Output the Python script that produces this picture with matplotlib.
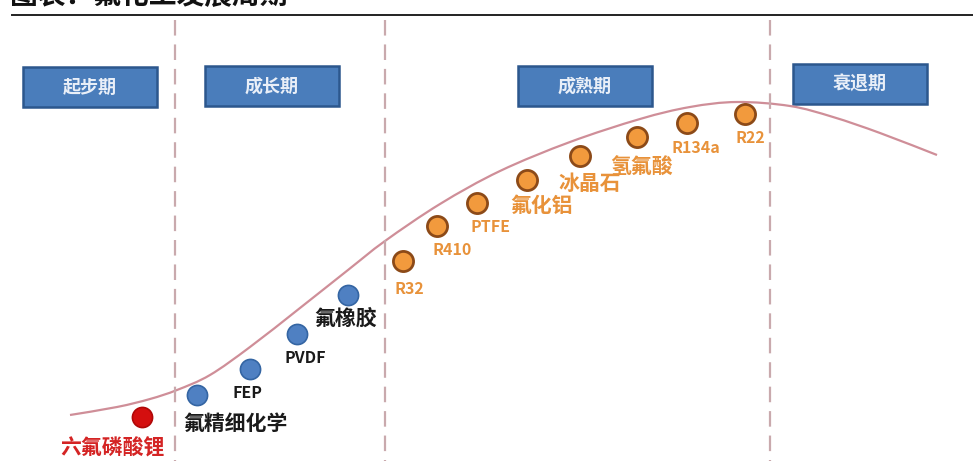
import matplotlib
matplotlib.use("Agg")
import matplotlib.pyplot as plt
from matplotlib.patches import FancyBboxPatch, PathPatch
from matplotlib.path import Path

plt.rcParams['font.family'] = ['Noto Sans CJK SC', 'DejaVu Sans']

# ---- data ----
title = "图表：氟化工发展周期"
stages = ["起步期", "成长期", "成熟期", "衰退期"]
stage_box_x = [23, 205, 518, 793]
stage_box_y = [67, 66, 66, 64]
stage_bounds = [175, 385, 770]

# points on the life-cycle curve
curve_x = [70, 117, 150, 177, 210, 250, 300, 348, 385, 440, 500, 570, 640, 690, 737, 790, 833, 880, 937]
curve_y = [415, 407, 399, 390, 375, 347, 308, 270, 241, 204, 171, 142, 119, 107, 102, 106, 117, 133, 155]

products = ["六氟磷酸锂", "氟精细化学", "FEP", "PVDF", "氟橡胶",
            "R32", "R410", "PTFE", "氟化铝", "冰晶石", "氢氟酸", "R134a", "R22"]
prod_x = [142, 197, 250, 297, 348, 403, 437, 477, 527, 580, 637, 687, 745]
prod_y = [417, 395, 369, 334, 295, 261, 226, 203, 180, 156, 137, 123, 114]
prod_group = ["new", "growth", "growth", "growth", "growth",
              "mature", "mature", "mature", "mature", "mature", "mature", "mature", "mature"]
label_x = [112, 236, 247, 305, 346, 409, 452, 491, 542, 590, 641, 696, 750]
label_y = [448, 423, 393, 358, 318, 289, 250, 227, 205, 183, 167, 148, 138]

W, H = 973, 461
fig = plt.figure(figsize=(W / 100, H / 100), dpi=100)
ax = fig.add_axes([0, 0, 1, 1])
ax.set_xlim(0, W)
ax.set_ylim(H, 0)
ax.axis('off')
fig.patch.set_facecolor('white')

# title (cropped at top, as in the reference) and rule
ax.text(10, 10, title, fontsize=20, fontweight='bold', color='#111111',
        ha='left', va='bottom', clip_on=False)
ax.plot([12, W], [15.5, 15.5], color='#222222', lw=1.4)

# dashed stage boundaries
for bx in stage_bounds:
    ax.plot([bx, bx], [20, H], color='#c9a9ad', lw=1.6, dashes=(7, 4))

# stage boxes
for name, bx, by in zip(stages, stage_box_x, stage_box_y):
    box = FancyBboxPatch((bx, by), 134, 40, boxstyle="square,pad=0",
                         facecolor='#4a7dbb', edgecolor='#2c578d', lw=1.8)
    ax.add_patch(box)
    ax.text(bx + 67, by + 20, name, fontsize=13, color='#e9eff8',
            ha='center', va='center', fontweight='bold')

# smooth life-cycle curve through the read points (cubic Bezier segments)
pts = list(zip(curve_x, curve_y))
n = len(pts)
verts = [pts[0]]
codes = [Path.MOVETO]
for i in range(n - 1):
    p0 = pts[i - 1] if i > 0 else pts[i]
    p1 = pts[i]
    p2 = pts[i + 1]
    p3 = pts[i + 2] if i + 2 < n else pts[i + 1]
    c1 = (p1[0] + (p2[0] - p0[0]) / 6, p1[1] + (p2[1] - p0[1]) / 6)
    c2 = (p2[0] - (p3[0] - p1[0]) / 6, p2[1] - (p3[1] - p1[1]) / 6)
    verts += [c1, c2, p2]
    codes += [Path.CURVE4] * 3
ax.add_patch(PathPatch(Path(verts, codes), facecolor='none',
                       edgecolor='#cf8e98', lw=1.6))

style = {
    "new": dict(face='#d40f0f', edge='#b00808', text='#d42424'),
    "growth": dict(face='#4f80c2', edge='#3465a3', text='#1a1a1a'),
    "mature": dict(face='#f29a3d', edge='#8c4a18', text='#e8923a'),
}

for name, px, py, g, lx, ly in zip(products, prod_x, prod_y, prod_group, label_x, label_y):
    s = style[g]
    ax.plot(px, py, 'o', markersize=14.5, markerfacecolor=s['face'],
            markeredgecolor=s['edge'], markeredgewidth=2 if g == 'mature' else 1.2)
    latin = name.isascii()
    ax.text(lx, ly, name, fontsize=11.5 if latin else 15, fontweight='bold',
            color=s['text'], ha='center', va='center')

fig.savefig('out.png', dpi=100, facecolor='white')
